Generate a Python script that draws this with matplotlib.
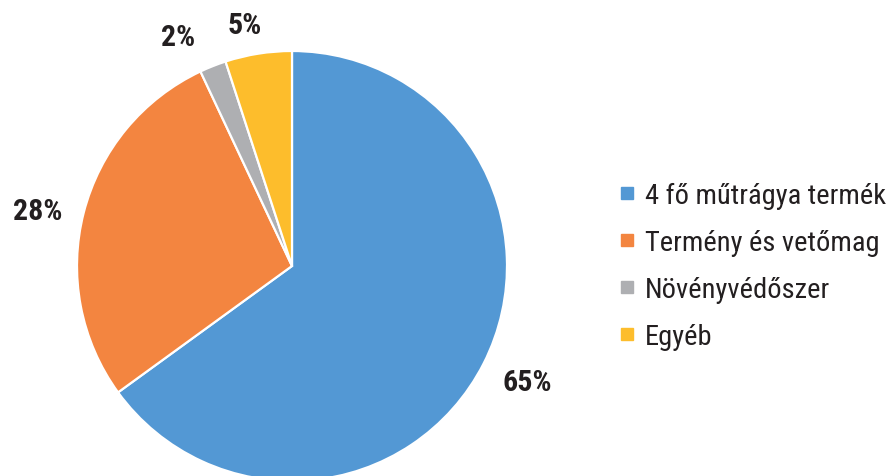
import numpy as np
import matplotlib.pyplot as plt
from matplotlib.lines import Line2D

# ── adatok ─────────────────────────────────────────
categories = ["4 fő műtrágya termék", "Termény és vetőmag", "Növényvédőszer", "Egyéb"]
shares = [65, 28, 2, 5]
colors = ["#5398D4", "#F38540", "#AEAFB2", "#FDBD2C"]

# címkék helye (szög, sugár) – Excel "best fit" utánzása
label_pos = [(-26.3, 1.22), (167.8, 1.21), (116.5, 1.19), (101.0, 1.14)]

narrow = ["Roboto Condensed", "IBM Plex Sans Condensed", "Archivo Narrow", "DejaVu Sans"]
plt.rcParams["font.family"] = narrow

W, H = 886, 477
fig = plt.figure(figsize=(W / 100, H / 100), dpi=100)
fig.patch.set_facecolor("white")

# pite középpont (292, 267) px, sugár 215 px
cx, cy, r = 292, 267, 215
ax = fig.add_axes([(cx - r) / W, (H - cy - r) / H, 2 * r / W, 2 * r / H])

wedges, _ = ax.pie(shares, colors=colors, startangle=90, counterclock=False,
                   radius=1, wedgeprops=dict(edgecolor="white", linewidth=1.6))
ax.set_xlim(-1, 1)
ax.set_ylim(-1, 1)
ax.set_aspect("equal")
ax.axis("off")

for val, (ang, rad) in zip(shares, label_pos):
    a = np.deg2rad(ang)
    ax.text(rad * np.cos(a), rad * np.sin(a), f"{val}%", ha="center", va="center",
            fontsize=21.5, fontweight="bold", color="#231F20", clip_on=False)

handles = [Line2D([0], [0], marker="s", linestyle="", markersize=8,
                  markerfacecolor=c, markeredgecolor=c) for c in colors]
leg = fig.legend(handles, categories, loc="center left",
                 bbox_to_anchor=(604 / W, 1 - 267 / H), frameon=False,
                 fontsize=20.5, handlelength=0.6, handletextpad=0.35,
                 labelspacing=0.7, borderpad=0)
for t in leg.get_texts():
    t.set_color("#231F20")

plt.savefig("out.png", dpi=100, facecolor="white")
